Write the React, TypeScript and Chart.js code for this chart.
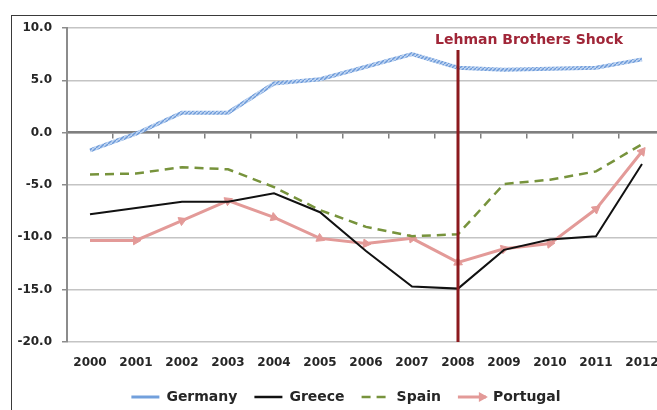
import React, { useEffect, useRef } from 'react';
import { Chart, registerables } from 'chart.js';

Chart.register(...registerables);

const years = ['2000', '2001', '2002', '2003', '2004', '2005', '2006', '2007', '2008', '2009', '2010', '2011', '2012'];
const germany = [-1.7, -0.1, 1.9, 1.9, 4.7, 5.1, 6.3, 7.5, 6.2, 6.0, 6.1, 6.2, 7.0];
const greece = [-7.8, -7.2, -6.6, -6.6, -5.8, -7.6, -11.3, -14.7, -14.9, -11.2, -10.2, -9.9, -3.0];
const spain = [-4.0, -3.9, -3.3, -3.5, -5.2, -7.4, -9.0, -9.9, -9.7, -4.9, -4.5, -3.7, -1.1];
const portugal = [-10.3, -10.3, -8.4, -6.5, -8.1, -10.1, -10.6, -10.1, -12.4, -11.1, -10.6, -7.3, -1.8];
const yMin = -20;
const yMax = 10;
const yStep = 5;
const shockYear = '2008';
const shockLabel = 'Lehman Brothers Shock';

const FONT = '"DejaVu Sans", sans-serif';
const SAMPLE_W = 28;

export default function App() {
  const ref = useRef<HTMLCanvasElement>(null);

  useEffect(() => {
    const canvas = ref.current!;
    const c2d = canvas.getContext('2d')!;
    const pc = document.createElement('canvas');
    pc.width = 4;
    pc.height = 4;
    const p = pc.getContext('2d')!;
    p.fillStyle = '#bdd3f1';
    p.fillRect(0, 0, 4, 4);
    p.strokeStyle = '#6c9ad9';
    p.lineWidth = 1.4;
    p.beginPath();
    p.moveTo(-1, 5);
    p.lineTo(5, -1);
    p.stroke();
    const pattern = c2d.createPattern(pc, 'repeat')!;

    const arrowRotation = (ctx: any) => {
      const i = ctx.dataIndex;
      if (!i) return 0;
      const ch = ctx.chart;
      const xs = ch.scales.x;
      const ys = ch.scales.y;
      if (!xs || !ys) return 0;
      const dx = xs.getPixelForValue(i) - xs.getPixelForValue(i - 1);
      const dy = ys.getPixelForValue(portugal[i]) - ys.getPixelForValue(portugal[i - 1]);
      return (Math.atan2(dy, dx) * 180) / Math.PI + 90;
    };

    const shockPlugin = {
      id: 'shock',
      afterDatasetsDraw(chart: any) {
        const { ctx, scales } = chart;
        const x = scales.x;
        const y = scales.y;
        const px = x.getPixelForValue(years.indexOf(shockYear));
        ctx.save();
        ctx.strokeStyle = '#8c1a1e';
        ctx.lineWidth = 3;
        ctx.beginPath();
        ctx.moveTo(px, y.getPixelForValue(7.9));
        ctx.lineTo(px, y.getPixelForValue(yMin));
        ctx.stroke();
        ctx.font = 'bold 14px ' + FONT;
        ctx.fillStyle = '#a02638';
        ctx.textAlign = 'left';
        ctx.textBaseline = 'middle';
        ctx.fillText(shockLabel, px - 23, y.getPixelForValue(8.8));
        ctx.restore();
      },
      afterDraw(chart: any) {
        const lg = chart.legend;
        if (!lg || !lg.legendHitBoxes || !lg.legendHitBoxes[3]) return;
        const hb = lg.legendHitBoxes[3];
        const ctx = chart.ctx;
        const tipX = hb.left + SAMPLE_W;
        const cy = hb.top + hb.height / 2;
        ctx.save();
        ctx.fillStyle = '#e39a98';
        ctx.beginPath();
        ctx.moveTo(tipX + 2, cy);
        ctx.lineTo(tipX - 7, cy - 5);
        ctx.lineTo(tipX - 7, cy + 5);
        ctx.closePath();
        ctx.fill();
        ctx.restore();
      },
    };

    const defaultLabels = (Chart.defaults as any).plugins.legend.labels.generateLabels;
    const legendWidths: Record<string, number> = { Germany: 3, Greece: 2.5, Spain: 2.5, Portugal: 3 };
    const legendColors: Record<string, string> = {
      Germany: '#72a0dc',
      Greece: '#111111',
      Spain: '#77933c',
      Portugal: '#e39a98',
    };

    const chart = new Chart(canvas, {
      type: 'line',
      data: {
        labels: years,
        datasets: [
          {
            label: 'Germany',
            data: germany,
            borderColor: pattern as any,
            backgroundColor: '#7ba3dc',
            borderWidth: 4,
            pointRadius: 0,
            tension: 0,
          },
          {
            label: 'Greece',
            data: greece,
            borderColor: '#111111',
            backgroundColor: '#111111',
            borderWidth: 2,
            pointRadius: 0,
            tension: 0,
          },
          {
            label: 'Spain',
            data: spain,
            borderColor: '#77933c',
            backgroundColor: '#77933c',
            borderWidth: 2.5,
            borderDash: [9, 6],
            pointRadius: 0,
            tension: 0,
          },
          {
            label: 'Portugal',
            data: portugal,
            borderColor: '#e39a98',
            backgroundColor: '#e39a98',
            borderWidth: 3,
            pointStyle: 'triangle',
            pointRadius: (ctx: any) => (ctx.dataIndex ? 5 : 0),
            pointBorderWidth: 1,
            pointBorderColor: '#e39a98',
            pointBackgroundColor: '#e39a98',
            pointRotation: arrowRotation,
            tension: 0,
          } as any,
        ],
      },
      options: {
        animation: false,
        responsive: false,
        devicePixelRatio: 1,
        layout: { padding: { top: 28, left: 0, right: 0, bottom: -4 } },
        plugins: {
          tooltip: { enabled: false },
          legend: {
            position: 'bottom',
            labels: {
              usePointStyle: true,
              pointStyle: 'line',
              pointStyleWidth: SAMPLE_W,
              boxHeight: 14,
              padding: 17,
              color: '#262626',
              font: { family: FONT, size: 14, weight: 'bold' },
              generateLabels: (ch: any) =>
                defaultLabels(ch).map((it: any) => {
                  it.lineWidth = legendWidths[it.text] ?? it.lineWidth;
                  it.strokeStyle = legendColors[it.text] ?? it.strokeStyle;
                  it.lineDash = it.text === 'Spain' ? [9, 6] : [];
                  it.rotation = 0;
                  return it;
                }),
            },
          },
        },
        scales: {
          x: {
            type: 'category',
            offset: true,
            grid: { display: false, drawTicks: false },
            border: { display: false },
            ticks: {
              padding: 14,
              color: '#262626',
              font: { family: FONT, size: 12, weight: 'bold' },
              maxRotation: 0,
              autoSkip: false,
            },
            afterFit: (s: any) => {
              s.height = 31;
            },
          },
          x0: {
            type: 'category',
            labels: years,
            offset: true,
            position: { y: 0 } as any,
            grid: {
              offset: true,
              drawOnChartArea: false,
              drawTicks: true,
              tickLength: 5,
              color: '#7f7f7f',
              lineWidth: 1.5,
            },
            border: { display: true, color: '#7f7f7f', width: 2.5 },
            ticks: { display: false },
          },
          y: {
            min: yMin,
            max: yMax,
            position: 'left',
            ticks: {
              stepSize: yStep,
              padding: 10,
              color: '#262626',
              font: { family: FONT, size: 12, weight: 'bold' },
              callback: (v: any) => Number(v).toFixed(1),
            },
            grid: {
              color: '#c4c4c4',
              lineWidth: 1.5,
              drawTicks: true,
              tickLength: 5,
              tickColor: '#8c8c8c',
            },
            border: { display: true, color: '#8c8c8c', width: 2 },
            afterFit: (s: any) => {
              s.width = 67;
            },
          },
          y2: {
            position: 'right',
            display: true,
            grid: { display: false, drawTicks: false },
            border: { display: false },
            ticks: { display: false },
            afterFit: (s: any) => {
              s.width = 27;
            },
          },
        },
      } as any,
      plugins: [shockPlugin],
    });
    return () => chart.destroy();
  }, []);

  return (
    <div
      style={{
        position: 'fixed',
        left: 0,
        top: 0,
        width: 657,
        height: 410,
        overflow: 'hidden',
        background: '#ffffff',
      }}
    >
      <div
        style={{
          position: 'absolute',
          left: 11,
          top: 15,
          width: 700,
          height: 420,
          borderLeft: '1.5px solid #3a3a3a',
          borderTop: '1.5px solid #3a3a3a',
        }}
      />
      <canvas
        ref={ref}
        width={692}
        height={410}
        style={{ position: 'absolute', left: 0, top: 0, width: 692, height: 410 }}
      />
    </div>
  );
}
